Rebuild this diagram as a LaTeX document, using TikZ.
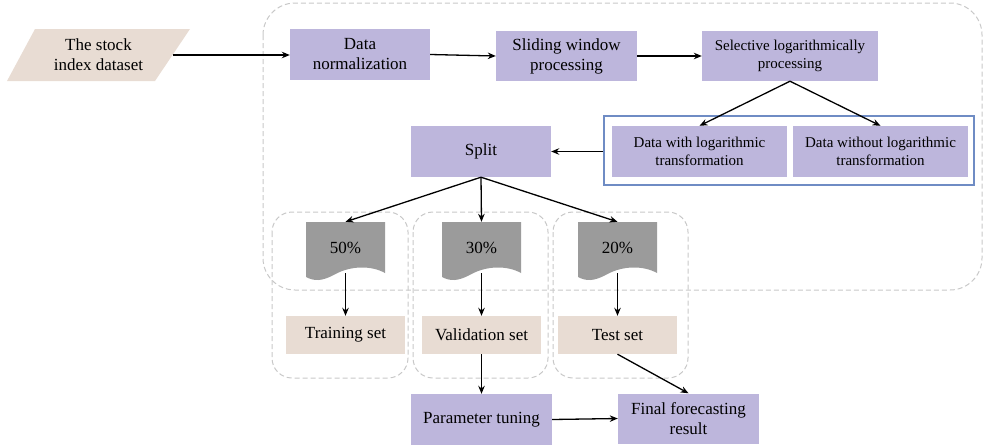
\documentclass[tikz,border=0pt]{standalone}
\usepackage{fontspec}
\setmainfont{Liberation Serif}
\usetikzlibrary{arrows.meta,fit}
\definecolor{lav}{HTML}{BDB6DC}
\definecolor{beige}{HTML}{E8DCD3}
\definecolor{docgray}{HTML}{9B9B9B}
\definecolor{blueline}{HTML}{6F8CC4}
\definecolor{dashgray}{HTML}{C8C8C8}
\tikzset{
  box/.style={fill=lav, minimum width=#1, minimum height=51pt, inner sep=0pt, align=center, font=\fontsize{17}{20}\selectfont},
  sbox/.style={fill=lav, minimum width=#1, minimum height=51pt, inner sep=0pt, align=center, font=\fontsize{15}{18}\selectfont},
  setbox/.style={fill=beige, minimum width=119pt, minimum height=38pt, inner sep=0pt, font=\fontsize{17}{20}\selectfont},
  docnode/.style={minimum width=79pt, minimum height=51pt, inner sep=0pt, font=\fontsize{17}{20}\selectfont},
  grp/.style={draw=dashgray, dash pattern=on 5pt off 3pt, line width=1pt, rounded corners=#1},
  arr/.style={-{Stealth[length=8pt,width=6.5pt]}, line width=1.3pt},
}
\newcommand{\docpath}[1]{%
  \fill[docgray] (#1-39.5,222) -- (#1+39.5,222) -- (#1+39.5,273)
    .. controls (#1+25,265) and (#1+5,266) .. (#1-10,274)
    .. controls (#1-24,282) and (#1-32,281) .. (#1-39.5,277) -- cycle;}
\begin{document}
\begin{tikzpicture}[x=1pt,y=-1pt]
\useasboundingbox (0,0) rectangle (984,447);
% dashed groups
\draw[grp=32pt] (263,3) rectangle (982,290);
\draw[grp=20pt] (272,212) rectangle (408,378);
\draw[grp=20pt] (413,212) rectangle (548,378);
\draw[grp=20pt] (553,212) rectangle (688,378);
% input parallelogram
\fill[beige] (7,81) -- (35,29) -- (190,29) -- (155,81) -- cycle;
\node[align=center, inner sep=0pt, minimum width=137pt, minimum height=52pt, font=\fontsize{17}{20}\selectfont] (ds) at (98.5,55) {The stock\\index dataset};
% top row
\node[box=140pt] (norm) at (360,54.5) {Data\\normalization};
\node[box=141pt, minimum height=50pt] (slide) at (566.5,56) {Sliding window\\processing};
\node[sbox=176pt, minimum height=50pt] (sel) at (790,56) {Selective logarithmically\\processing};
% log boxes
\node[sbox=175pt] (logy) at (699.5,151.5) {Data with logarithmic\\transformation};
\node[sbox=175pt] (logn) at (880.5,151.5) {Data without logarithmic\\transformation};
\node[draw=blueline, line width=1.2pt, inner sep=0pt, fit={(604,116) (974,185)}] (blue) {};
% split
\node[box=140pt] (split) at (481,151.5) {Split};
% docs
\docpath{345.5}
\docpath{481.5}
\docpath{617.5}
\node[docnode] (d50) at (345.5,247.5) {50\%};
\node[docnode] (d30) at (481.5,247.5) {30\%};
\node[docnode] (d20) at (617.5,247.5) {20\%};
% sets
\node[setbox] (train) at (345.5,335) {Training set};
\node[setbox] (val) at (481.5,335) {Validation set};
\node[setbox] (test) at (617.5,335) {Test set};
% bottom
\node[box=141pt] (tune) at (481.5,419.5) {Parameter tuning};
\node[box=141pt, minimum height=50pt] (final) at (688.5,418.5) {Final forecasting\\result};
% arrows
\draw[arr] (172.5,55) coordinate (dsr) -- (norm.west |- dsr);
\draw[arr] (norm.east) -- (slide.west);
\draw[arr] (slide.east) -- (sel.west);
\draw[arr] (sel.south) -- (logy.north);
\draw[arr] (sel.south) -- (logn.north);
\draw[arr] (blue.west |- split.east) -- (split.east);
\draw[arr] (split.south) -- (d50.north);
\draw[arr] (split.south) -- (d30.north);
\draw[arr] (split.south) -- (d20.north);
\draw[arr] (d50.south) -- (train.north);
\draw[arr] (d30.south) -- (val.north);
\draw[arr] (d20.south) -- (test.north);
\draw[arr] (val.south) -- (tune.north);
\draw[arr] (test.south) -- (final.north);
\draw[arr] (tune.east) -- (final.west);
\end{tikzpicture}
\end{document}
